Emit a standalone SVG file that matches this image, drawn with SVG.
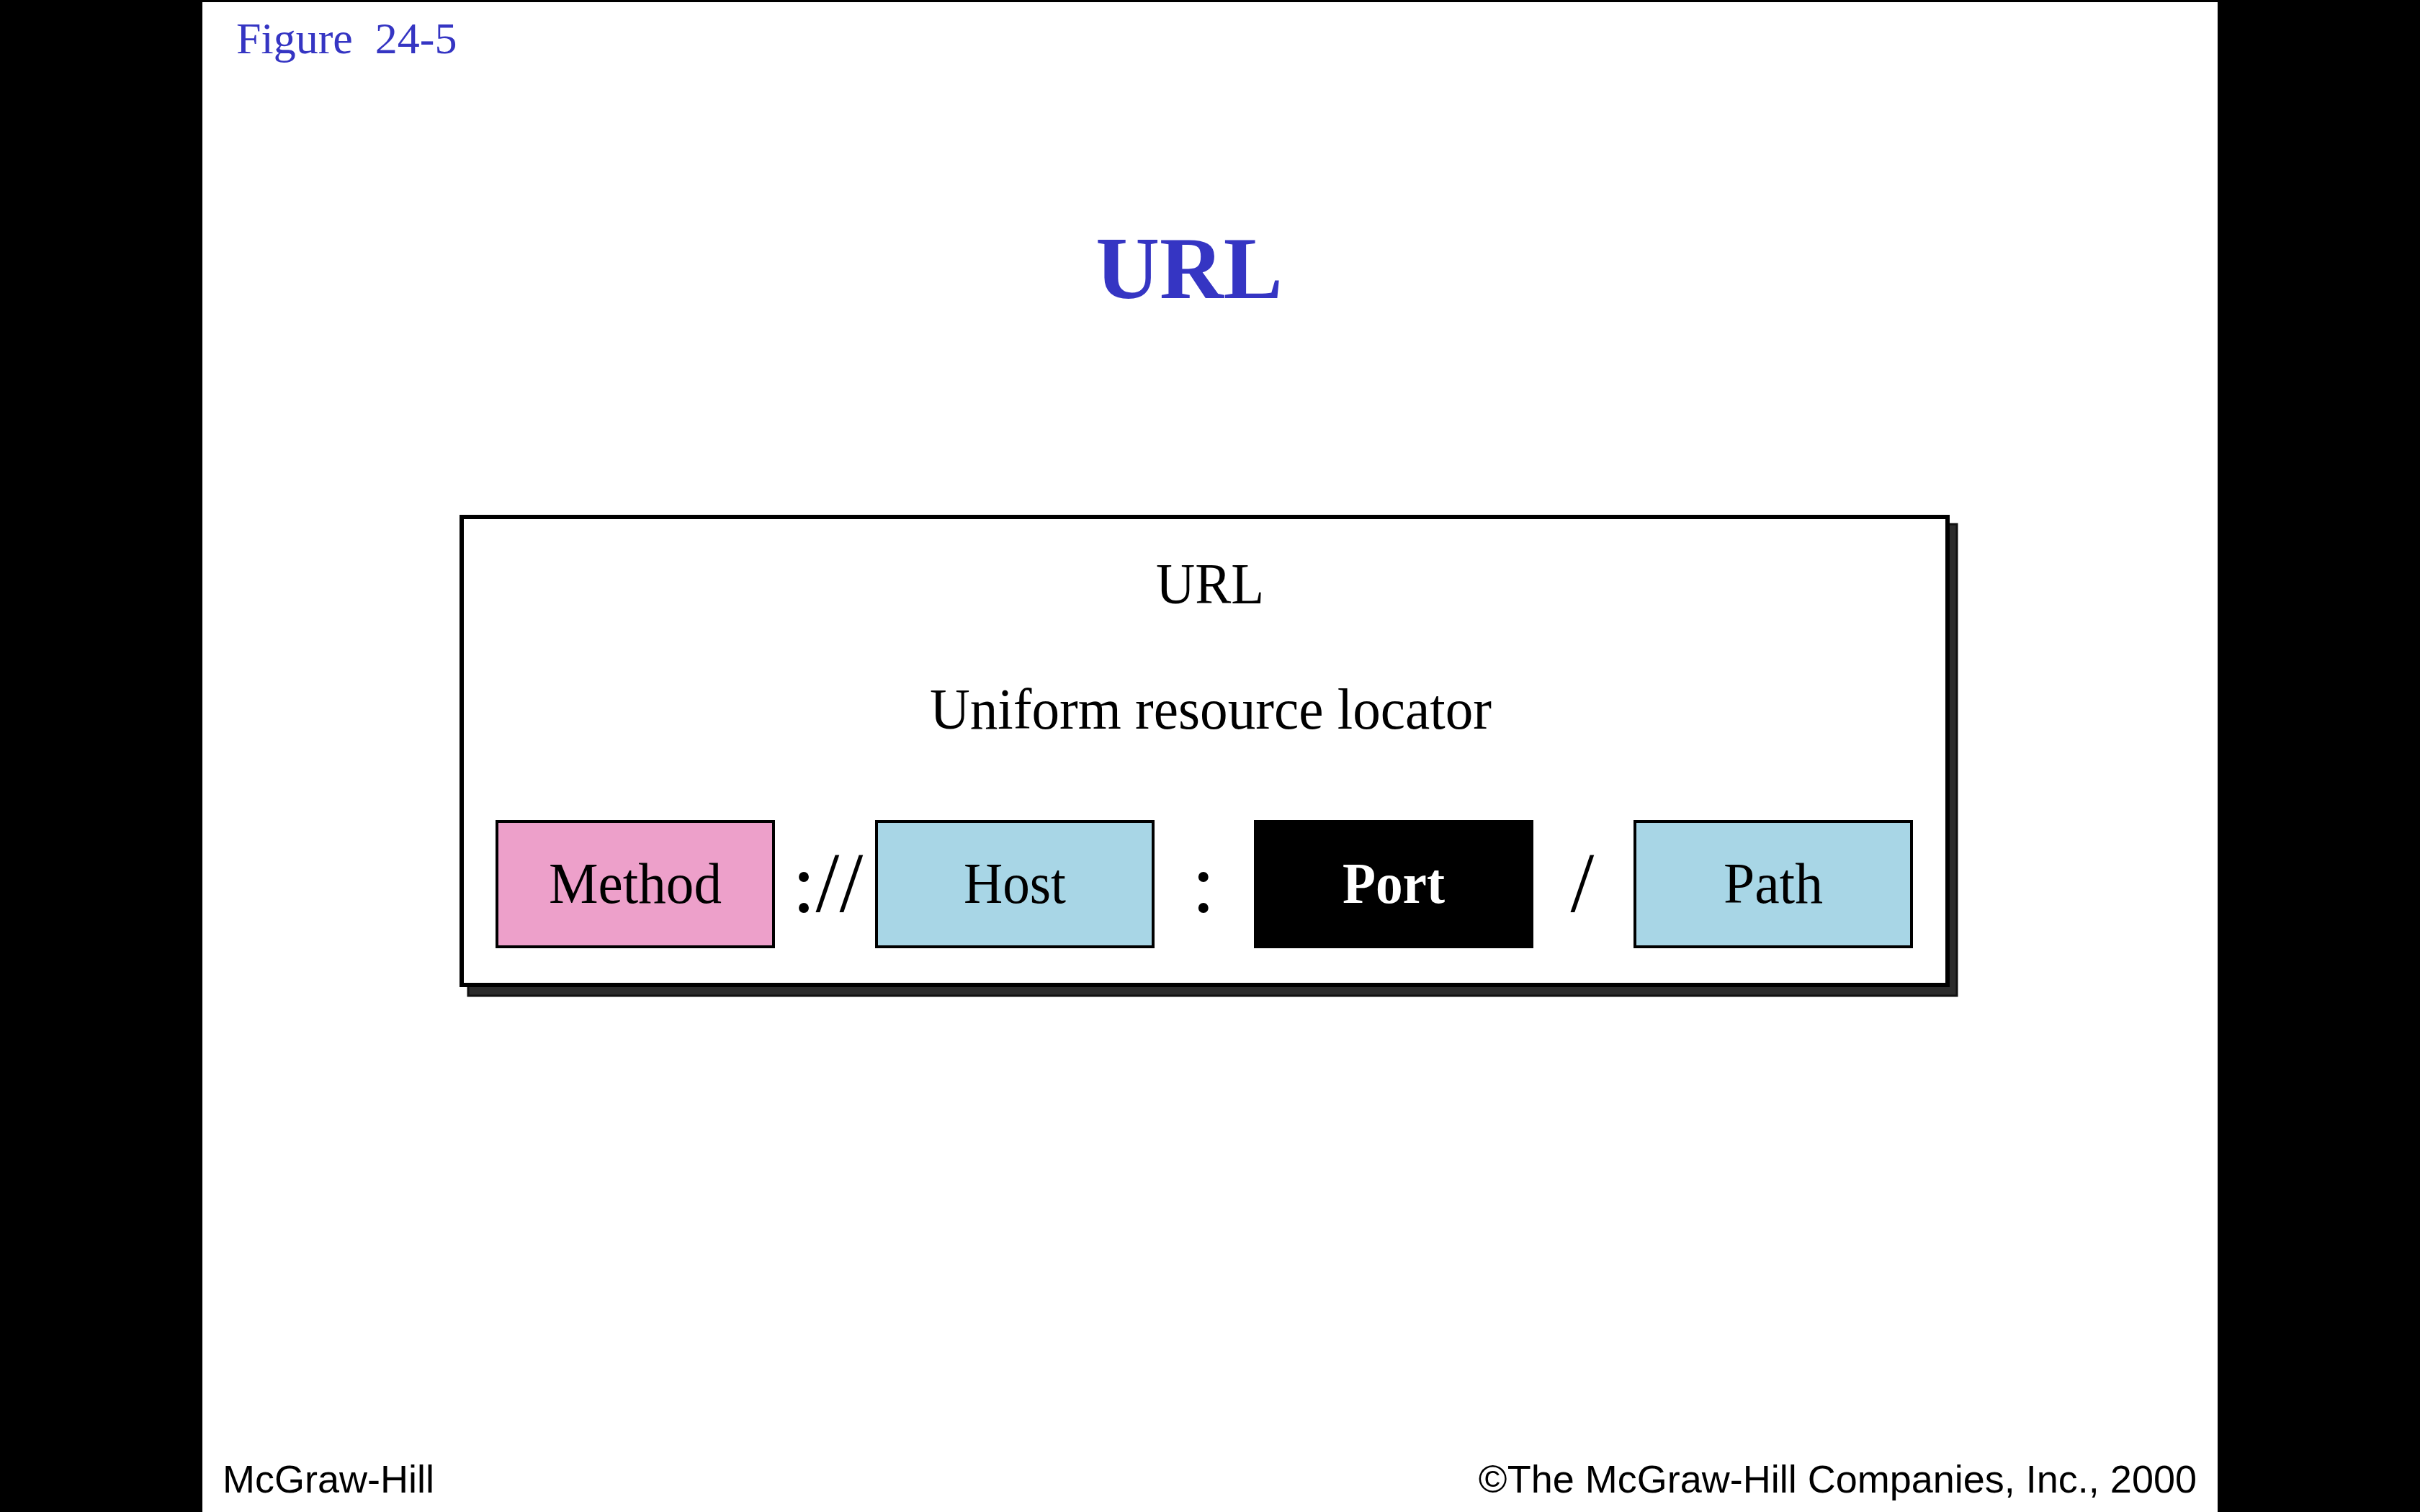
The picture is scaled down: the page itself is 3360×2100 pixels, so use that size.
<svg xmlns="http://www.w3.org/2000/svg" width="3360" height="2100" viewBox="0 0 3360 2100">
  <style>
    .serif { font-family: "Liberation Serif", "Times New Roman", serif; }
    .sans { font-family: "Liberation Sans", Arial, sans-serif; }
    .blue { fill: #3535C3; }
    .part { stroke: #000; stroke-width: 4; }
    .label { font-size: 80px; text-anchor: middle; fill: #000; }
    .sep { font-size: 118px; text-anchor: middle; fill: #000; }
    .foot { font-size: 54px; fill: #000; }
  </style>
  <rect x="0" y="0" width="3360" height="2100" fill="#000"/>
  <rect x="281" y="3" width="2798" height="2097" fill="#fff"/>

  <g id="header">
    <text class="serif blue" x="328" y="74" font-size="62" style="white-space:pre">Figure  24-5</text>
    <text class="serif blue" x="1651" y="414" font-size="123" font-weight="bold" text-anchor="middle">URL</text>
  </g>

  <g id="url-box">
    <rect x="650" y="728" width="2067" height="655" fill="#2c2c2c" stroke="#111" stroke-width="3"/>
    <rect x="641" y="718" width="2063" height="650" fill="#fff" stroke="#000" stroke-width="6"/>
    <text class="serif label" x="1680" y="838" textLength="150" lengthAdjust="spacingAndGlyphs">URL</text>
    <text class="serif label" x="1681" y="1012" textLength="780" lengthAdjust="spacingAndGlyphs">Uniform resource locator</text>
  </g>

  <g id="method">
    <rect class="part" x="690" y="1141" width="384" height="174" fill="#EDA0CA"/>
    <text class="serif label" x="882" y="1254" textLength="240" lengthAdjust="spacingAndGlyphs">Method</text>
  </g>
  <g id="host">
    <rect class="part" x="1217" y="1141" width="384" height="174" fill="#A8D6E6"/>
    <text class="serif label" x="1409" y="1254" textLength="142" lengthAdjust="spacingAndGlyphs">Host</text>
  </g>
  <g id="port">
    <rect class="part" x="1743" y="1141" width="384" height="174" fill="#000"/>
    <text class="serif label" x="1935" y="1254" font-weight="bold" style="fill:#fff" textLength="142" lengthAdjust="spacingAndGlyphs">Port</text>
  </g>
  <g id="path">
    <rect class="part" x="2270" y="1141" width="384" height="174" fill="#A8D6E6"/>
    <text class="serif label" x="2462" y="1254" textLength="138" lengthAdjust="spacingAndGlyphs">Path</text>
  </g>

  <g id="connectors">
    <text class="serif sep" x="1149" y="1266">://</text>
    <text class="serif sep" x="1671" y="1266">:</text>
    <text class="serif sep" x="2197" y="1266">/</text>
  </g>

  <g id="footer">
    <text class="sans foot" x="309" y="2073">McGraw-Hill</text>
    <text class="sans foot" x="3050" y="2073" text-anchor="end">©The McGraw-Hill Companies, Inc., 2000</text>
  </g>
</svg>
